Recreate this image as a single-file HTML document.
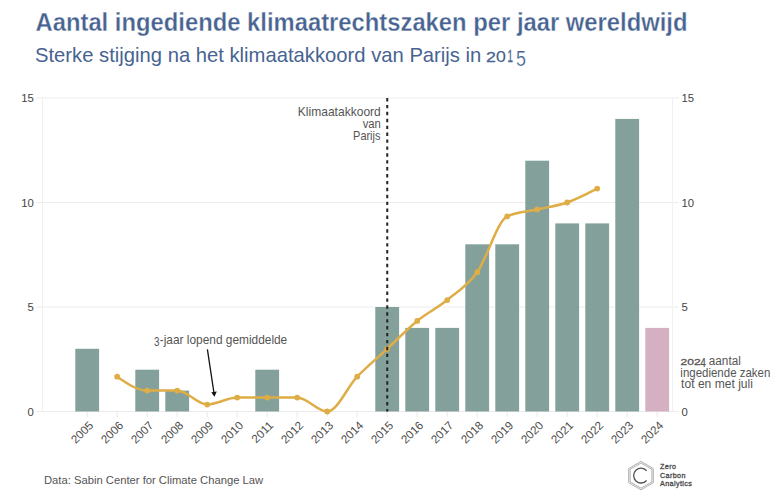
<!DOCTYPE html>
<html><head><meta charset="utf-8"><style>
html,body{margin:0;padding:0;background:#fff;}
body{width:777px;height:500px;overflow:hidden;position:relative;font-family:"Liberation Sans",sans-serif;}
svg{position:absolute;left:0;top:0;font-family:"Liberation Sans",sans-serif;}
.ax{font-size:11.3px;fill:#444;}
.xl{font-size:11.6px;fill:#4a4a4a;}
</style></head><body>
<svg width="777" height="500" viewBox="0 0 777 500">
<line x1="36" x2="678.5" y1="411.50" y2="411.50" stroke="#ececec" stroke-width="1"/>
<line x1="36" x2="678.5" y1="307.00" y2="307.00" stroke="#ececec" stroke-width="1"/>
<line x1="36" x2="678.5" y1="202.50" y2="202.50" stroke="#ececec" stroke-width="1"/>
<line x1="36" x2="678.5" y1="98.00" y2="98.00" stroke="#ececec" stroke-width="1"/>
<line x1="42.5" x2="42.5" y1="98.00" y2="411.50" stroke="#f0f0f0" stroke-width="1"/>
<line x1="672.5" x2="672.5" y1="98.00" y2="411.50" stroke="#f1f1f1" stroke-width="1"/>
<line x1="87.20" x2="87.20" y1="411.50" y2="417.00" stroke="#e9e9e9" stroke-width="1"/>
<line x1="117.20" x2="117.20" y1="411.50" y2="417.00" stroke="#e9e9e9" stroke-width="1"/>
<line x1="147.20" x2="147.20" y1="411.50" y2="417.00" stroke="#e9e9e9" stroke-width="1"/>
<line x1="177.20" x2="177.20" y1="411.50" y2="417.00" stroke="#e9e9e9" stroke-width="1"/>
<line x1="207.20" x2="207.20" y1="411.50" y2="417.00" stroke="#e9e9e9" stroke-width="1"/>
<line x1="237.20" x2="237.20" y1="411.50" y2="417.00" stroke="#e9e9e9" stroke-width="1"/>
<line x1="267.20" x2="267.20" y1="411.50" y2="417.00" stroke="#e9e9e9" stroke-width="1"/>
<line x1="297.20" x2="297.20" y1="411.50" y2="417.00" stroke="#e9e9e9" stroke-width="1"/>
<line x1="327.20" x2="327.20" y1="411.50" y2="417.00" stroke="#e9e9e9" stroke-width="1"/>
<line x1="357.20" x2="357.20" y1="411.50" y2="417.00" stroke="#e9e9e9" stroke-width="1"/>
<line x1="387.20" x2="387.20" y1="411.50" y2="417.00" stroke="#e9e9e9" stroke-width="1"/>
<line x1="417.20" x2="417.20" y1="411.50" y2="417.00" stroke="#e9e9e9" stroke-width="1"/>
<line x1="447.20" x2="447.20" y1="411.50" y2="417.00" stroke="#e9e9e9" stroke-width="1"/>
<line x1="477.20" x2="477.20" y1="411.50" y2="417.00" stroke="#e9e9e9" stroke-width="1"/>
<line x1="507.20" x2="507.20" y1="411.50" y2="417.00" stroke="#e9e9e9" stroke-width="1"/>
<line x1="537.20" x2="537.20" y1="411.50" y2="417.00" stroke="#e9e9e9" stroke-width="1"/>
<line x1="567.20" x2="567.20" y1="411.50" y2="417.00" stroke="#e9e9e9" stroke-width="1"/>
<line x1="597.20" x2="597.20" y1="411.50" y2="417.00" stroke="#e9e9e9" stroke-width="1"/>
<line x1="627.20" x2="627.20" y1="411.50" y2="417.00" stroke="#e9e9e9" stroke-width="1"/>
<line x1="657.20" x2="657.20" y1="411.50" y2="417.00" stroke="#e9e9e9" stroke-width="1"/>
<rect x="75.30" y="348.80" width="23.8" height="62.70" fill="#83a19a"/>
<rect x="135.30" y="369.70" width="23.8" height="41.80" fill="#83a19a"/>
<rect x="165.30" y="390.60" width="23.8" height="20.90" fill="#83a19a"/>
<rect x="255.30" y="369.70" width="23.8" height="41.80" fill="#83a19a"/>
<rect x="375.30" y="307.00" width="23.8" height="104.50" fill="#83a19a"/>
<rect x="405.30" y="327.90" width="23.8" height="83.60" fill="#83a19a"/>
<rect x="435.30" y="327.90" width="23.8" height="83.60" fill="#83a19a"/>
<rect x="465.30" y="244.30" width="23.8" height="167.20" fill="#83a19a"/>
<rect x="495.30" y="244.30" width="23.8" height="167.20" fill="#83a19a"/>
<rect x="525.30" y="160.70" width="23.8" height="250.80" fill="#83a19a"/>
<rect x="555.30" y="223.40" width="23.8" height="188.10" fill="#83a19a"/>
<rect x="585.30" y="223.40" width="23.8" height="188.10" fill="#83a19a"/>
<rect x="615.30" y="118.90" width="23.8" height="292.60" fill="#83a19a"/>
<rect x="645.30" y="327.90" width="23.8" height="83.60" fill="#d4b0c2"/>
<path d="M117.20,376.67C127.20,383.63 137.20,390.60 147.20,390.60C157.20,390.60 167.20,390.60 177.20,390.60C187.20,390.60 197.20,404.53 207.20,404.53C217.20,404.53 227.20,397.57 237.20,397.57C247.20,397.57 257.20,397.57 267.20,397.57C277.20,397.57 287.20,397.57 297.20,397.57C307.20,397.57 317.20,411.50 327.20,411.50C337.20,411.50 347.20,387.12 357.20,376.67C367.20,366.22 377.20,358.09 387.20,348.80C397.20,339.51 407.20,329.06 417.20,320.93C427.20,312.81 437.20,308.16 447.20,300.03C457.20,291.91 467.20,286.10 477.20,272.17C487.20,258.23 497.20,221.08 507.20,216.43C517.20,211.79 527.20,211.79 537.20,209.47C547.20,207.14 557.20,205.98 567.20,202.50C577.20,199.02 587.20,193.79 597.20,188.57" fill="none" stroke="#dfad46" stroke-width="2.5"/>
<circle cx="117.20" cy="376.67" r="2.9" fill="#dfad46"/>
<circle cx="147.20" cy="390.60" r="2.9" fill="#dfad46"/>
<circle cx="177.20" cy="390.60" r="2.9" fill="#dfad46"/>
<circle cx="207.20" cy="404.53" r="2.9" fill="#dfad46"/>
<circle cx="237.20" cy="397.57" r="2.9" fill="#dfad46"/>
<circle cx="267.20" cy="397.57" r="2.9" fill="#dfad46"/>
<circle cx="297.20" cy="397.57" r="2.9" fill="#dfad46"/>
<circle cx="327.20" cy="411.50" r="2.9" fill="#dfad46"/>
<circle cx="357.20" cy="376.67" r="2.9" fill="#dfad46"/>
<circle cx="387.20" cy="348.80" r="2.9" fill="#dfad46"/>
<circle cx="417.20" cy="320.93" r="2.9" fill="#dfad46"/>
<circle cx="447.20" cy="300.03" r="2.9" fill="#dfad46"/>
<circle cx="477.20" cy="272.17" r="2.9" fill="#dfad46"/>
<circle cx="507.20" cy="216.43" r="2.9" fill="#dfad46"/>
<circle cx="537.20" cy="209.47" r="2.9" fill="#dfad46"/>
<circle cx="567.20" cy="202.50" r="2.9" fill="#dfad46"/>
<circle cx="597.20" cy="188.57" r="2.9" fill="#dfad46"/>
<line x1="387.25" x2="387.25" y1="98" y2="411.50" stroke="#232323" stroke-width="2" stroke-dasharray="3.4 3.511"/>
<text x="33.9" y="415.50" text-anchor="end" class="ax">0</text>
<text x="681.5" y="415.50" class="ax">0</text>
<text x="33.9" y="311.00" text-anchor="end" class="ax">5</text>
<text x="681.5" y="311.00" class="ax">5</text>
<text x="33.9" y="206.50" text-anchor="end" class="ax">10</text>
<text x="681.5" y="206.50" class="ax">10</text>
<text x="33.9" y="102.00" text-anchor="end" class="ax">15</text>
<text x="681.5" y="102.00" class="ax">15</text>
<text transform="translate(94.00,426.10) rotate(-45)" text-anchor="end" class="xl">2005</text>
<text transform="translate(124.00,426.10) rotate(-45)" text-anchor="end" class="xl">2006</text>
<text transform="translate(154.00,426.10) rotate(-45)" text-anchor="end" class="xl">2007</text>
<text transform="translate(184.00,426.10) rotate(-45)" text-anchor="end" class="xl">2008</text>
<text transform="translate(214.00,426.10) rotate(-45)" text-anchor="end" class="xl">2009</text>
<text transform="translate(244.00,426.10) rotate(-45)" text-anchor="end" class="xl">2010</text>
<text transform="translate(274.00,426.10) rotate(-45)" text-anchor="end" class="xl">2011</text>
<text transform="translate(304.00,426.10) rotate(-45)" text-anchor="end" class="xl">2012</text>
<text transform="translate(334.00,426.10) rotate(-45)" text-anchor="end" class="xl">2013</text>
<text transform="translate(364.00,426.10) rotate(-45)" text-anchor="end" class="xl">2014</text>
<text transform="translate(394.00,426.10) rotate(-45)" text-anchor="end" class="xl">2015</text>
<text transform="translate(424.00,426.10) rotate(-45)" text-anchor="end" class="xl">2016</text>
<text transform="translate(454.00,426.10) rotate(-45)" text-anchor="end" class="xl">2017</text>
<text transform="translate(484.00,426.10) rotate(-45)" text-anchor="end" class="xl">2018</text>
<text transform="translate(514.00,426.10) rotate(-45)" text-anchor="end" class="xl">2019</text>
<text transform="translate(544.00,426.10) rotate(-45)" text-anchor="end" class="xl">2020</text>
<text transform="translate(574.00,426.10) rotate(-45)" text-anchor="end" class="xl">2021</text>
<text transform="translate(604.00,426.10) rotate(-45)" text-anchor="end" class="xl">2022</text>
<text transform="translate(634.00,426.10) rotate(-45)" text-anchor="end" class="xl">2023</text>
<text transform="translate(664.00,426.10) rotate(-45)" text-anchor="end" class="xl">2024</text>
<text x="35.5" y="31.1" font-size="25.2" font-weight="bold" fill="#476391" stroke="#fff" stroke-width="0.3" textLength="652" lengthAdjust="spacingAndGlyphs">Aantal ingediende klimaatrechtszaken per jaar wereldwijd</text>
<text transform="translate(34.98,62.00) scale(1.0118,1)" font-size="20.00" fill="#476391" >Sterke stijging na het klimaatakkoord van Parijs in</text>
<text transform="translate(486.01,62.00) scale(1.1495,1)" font-size="15.47" fill="#476391" stroke="#476391" stroke-width="0.3">2</text>
<text transform="translate(495.63,62.00) scale(0.9177,1)" font-size="20.08" fill="#476391" >o</text>
<text transform="translate(507.46,62.00) scale(0.6205,1)" font-size="15.70" fill="#476391" stroke="#476391" stroke-width="0.3">1</text>
<text transform="translate(516.08,65.99) scale(0.8395,1)" font-size="21.35" fill="#476391" stroke="#fff" stroke-width="0.2">5</text>
<text transform="translate(297.81,115.60) scale(1.0044,1)" font-size="12.00" fill="#555" >Klimaatakkoord</text>
<text transform="translate(362.66,127.80) scale(0.9392,1)" font-size="12.00" fill="#555" >van</text>
<text transform="translate(353.10,139.50) scale(0.9130,1)" font-size="12.00" fill="#555" >Parijs</text>
<text transform="translate(153.92,346.48) scale(0.7976,1)" font-size="12.43" fill="#555" >3</text>
<text transform="translate(159.77,344.10) scale(0.9752,1)" font-size="12.20" fill="#555" >-jaar lopend gemiddelde</text>
<text transform="translate(680.49,364.91) scale(1.3336,1)" font-size="9.04" fill="#555" stroke="#555" stroke-width="0.3">202</text>
<text transform="translate(700.38,366.80) scale(0.7992,1)" font-size="11.92" fill="#555" stroke="#555" stroke-width="0.25">4</text>
<text transform="translate(708.80,365.00) scale(0.9622,1)" font-size="12.20" fill="#555" >aantal</text>
<text transform="translate(680.33,376.60) scale(0.9422,1)" font-size="12.20" fill="#555" >ingediende zaken</text>
<text transform="translate(681.12,388.30) scale(0.9909,1)" font-size="12.20" fill="#555" >tot en met juli</text>
<text transform="translate(43.88,484.20) scale(0.9543,1)" font-size="11.80" fill="#555" >Data: Sabin Center for Climate Change Law</text>
<line x1="207.4" y1="349.4" x2="213.9" y2="392.5" stroke="#111" stroke-width="1.3"/>
<path d="M211.3,392.2 L214.4,396.7 L216.8,391.5 Z" fill="#111"/>
<g transform="translate(641,475.6)">
<polygon points="0,-14.2 12.3,-7.1 12.3,7.1 0,14.2 -12.3,7.1 -12.3,-7.1" fill="none" stroke="#999" stroke-width="0.8"/>
<polygon points="0,-12.6 10.9,-6.3 10.9,6.3 0,12.6 -10.9,6.3 -10.9,-6.3" fill="none" stroke="#999" stroke-width="0.8"/>
<path d="M5.6,-4.9 A7.4,7.4 0 1 0 5.6,4.9" fill="none" stroke="#505050" stroke-width="1.3"/>
</g>
<text x="660" y="468.9" font-size="7.2" letter-spacing="0.38" fill="#4a4a4a" stroke="#4a4a4a" stroke-width="0.3">Zero</text>
<text x="660" y="477.5" font-size="7.2" letter-spacing="0.38" fill="#4a4a4a" stroke="#4a4a4a" stroke-width="0.3">Carbon</text>
<text x="660" y="485.7" font-size="7.2" letter-spacing="0.38" fill="#4a4a4a" stroke="#4a4a4a" stroke-width="0.3">Analytics</text>
</svg>
</body></html>
